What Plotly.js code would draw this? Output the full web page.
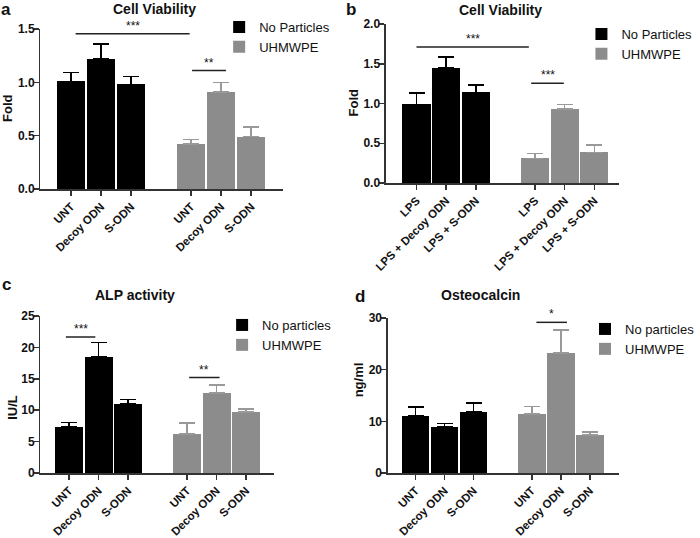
<!DOCTYPE html>
<html>
<head>
<meta charset="utf-8">
<script src="https://cdn.plot.ly/plotly-3.0.1.min.js"></script>
<style>
  body { margin: 0; background: #fff; }
  #fig { width: 700px; height: 538px; }
</style>
</head>
<body>
<div id="fig"></div>
<script>
// tick labels
var untLabels = ["UNT", "Decoy ODN", "S-ODN"];
var lpsLabels = ["LPS", "LPS + Decoy ODN", "LPS + S-ODN"];

// a. Cell Viability
var aNoPart = [1.01, 1.22, 0.98];
var aNoPartErr = [0.08, 0.14, 0.075];
var aUhmwpe = [0.42, 0.91, 0.49];
var aUhmwpeErr = [0.045, 0.09, 0.09];
var aSigFrom = [0.15, 4.03];
var aSigTo = [3.95, 5.16];
var aSigY = [1.456, 1.11];
var aSigText = ["***", "**"];

// b. Cell Viability (LPS)
var bNoPart = [0.99, 1.45, 1.14];
var bNoPartErr = [0.14, 0.135, 0.09];
var bUhmwpe = [0.31, 0.93, 0.385];
var bUhmwpeErr = [0.06, 0.06, 0.095];
var bSigFrom = [0, 3.87];
var bSigTo = [3.79, 4.97];
var bSigY = [1.71, 1.255];
var bSigText = ["***", "***"];

// c. ALP activity
var cNoPart = [7.4, 18.5, 11.0];
var cNoPartErr = [0.65, 2.3, 0.7];
var cUhmwpe = [6.25, 12.7, 9.75];
var cUhmwpeErr = [1.75, 1.3, 0.45];
var cSigFrom = [-0.11, 4.07];
var cSigTo = [0.89, 5.1];
var cSigY = [21.66, 15.2];
var cSigText = ["***", "**"];

// d. Osteocalcin
var dNoPart = [11.1, 8.9, 11.8];
var dNoPartErr = [1.7, 0.7, 1.75];
var dUhmwpe = [11.4, 23.2, 7.4];
var dUhmwpeErr = [1.45, 4.5, 0.5];
var dSigFrom = [4.16];
var dSigTo = [5.21];
var dSigY = [29.16];
var dSigText = ["*"];

var BLACK = "#000000";
var GRAY = "#8c8c8c";
var FONT = "Liberation Sans, Arial, sans-serif";

var data = [];
var annotations = [];

// bars + error bars for one panel
function addBars(ax, lg, blackY, blackErr, grayY, grayErr, name1) {
  var xa = ax == "" ? "x" : "x" + ax;
  var ya = ax == "" ? "y" : "y" + ax;
  data.push({
    type: "bar", x: blackY.map((v, i) => i), y: blackY, name: name1,
    xaxis: xa, yaxis: ya, legend: lg, width: 0.95,
    marker: { color: BLACK, line: { width: 0 } },
    error_y: { type: "data", array: blackErr, symmetric: false, arrayminus: blackErr.map(v => 0),
               color: BLACK, thickness: 1.5, width: 8 }
  });
  data.push({
    type: "bar", x: grayY.map((v, i) => i + 4), y: grayY, name: "UHMWPE",
    xaxis: xa, yaxis: ya, legend: lg, width: 0.95,
    marker: { color: GRAY, line: { width: 0 } },
    error_y: { type: "data", array: grayErr, symmetric: false, arrayminus: grayErr.map(v => 0),
               color: "#999999", thickness: 1.5, width: 8 }
  });
}

// significance lines and stars
function addSig(ax, from, to, ys, texts) {
  var xa = ax == "" ? "x" : "x" + ax;
  var ya = ax == "" ? "y" : "y" + ax;
  from.forEach(function(f, i) {
    data.push({
      type: "scatter", mode: "lines", x: [f, to[i]], y: [ys[i], ys[i]],
      xaxis: xa, yaxis: ya, showlegend: false, hoverinfo: "skip", cliponaxis: false,
      line: { color: "#222", width: 1.5 }
    });
    annotations.push({
      xref: xa, yref: ya, x: (f + to[i]) / 2, y: ys[i], text: texts[i],
      showarrow: false, xanchor: "center", yanchor: "bottom", yshift: -1,
      font: { family: FONT, size: 12, color: "#111" }
    });
  });
}

addBars("", "legend", aNoPart, aNoPartErr, aUhmwpe, aUhmwpeErr, "No Particles");
addBars("2", "legend2", bNoPart, bNoPartErr, bUhmwpe, bUhmwpeErr, "No Particles");
addBars("3", "legend3", cNoPart, cNoPartErr, cUhmwpe, cUhmwpeErr, "No particles");
addBars("4", "legend4", dNoPart, dNoPartErr, dUhmwpe, dUhmwpeErr, "No particles");

addSig("", aSigFrom, aSigTo, aSigY, aSigText);
addSig("2", bSigFrom, bSigTo, bSigY, bSigText);
addSig("3", cSigFrom, cSigTo, cSigY, cSigText);
addSig("4", dSigFrom, dSigTo, dSigY, dSigText);

// axis helpers
function xAxis(dom, rng, labels, anchor) {
  return {
    domain: dom, range: rng, anchor: anchor, showgrid: false, zeroline: false,
    showline: true, linecolor: "#333", linewidth: 1.5,
    ticks: "outside", ticklen: 5, tickwidth: 1.5, tickcolor: "#333",
    tickmode: "array", tickvals: [0, 1, 2, 4, 5, 6], ticktext: labels.concat(labels),
    tickangle: -45, tickfont: { family: FONT, size: 11.5, color: "#111", weight: "bold" },
    fixedrange: true
  };
}
function yAxis(dom, rng, dt, fmt, anchor) {
  return {
    domain: dom, range: rng, anchor: anchor, showgrid: false, zeroline: false,
    showline: true, linecolor: "#333", linewidth: 1.5,
    ticks: "outside", ticklen: 5, tickwidth: 1.5, tickcolor: "#333",
    dtick: dt, tick0: 0, tickformat: fmt, ticklabelstandoff: -3,
    tickfont: { family: FONT, size: 12, color: "#111", weight: "bold" },
    fixedrange: true
  };
}

// titles, letters, y titles
function label(x, y, text, size, bold, angle) {
  annotations.push({
    xref: "paper", yref: "paper", x: x / 700, y: 1 - y / 538, text: text,
    showarrow: false, xanchor: "center", yanchor: "middle", textangle: angle || 0,
    font: { family: FONT, size: size, color: "#111", weight: bold ? "bold" : "normal" }
  });
}
label(157, 9, "Cell Viability", 14, true);
label(507, 10, "Cell Viability", 14, true);
label(137, 295, "ALP activity", 14, true);
label(487, 295, "Osteocalcin", 14, true);
label(6, 10, "a", 17, true);
label(356, 10, "b", 17, true);
label(7, 284, "c", 17, true);
label(365, 297, "d", 17, true);
label(8, 108, "Fold", 13, true, -90);
label(358, 103, "Fold", 13, true, -90);
label(12, 407, "IU/L", 13, true, -90);
label(363, 380, "ng/ml", 13, true, -90);

function legendAt(x, y) {
  return {
    x: x / 700, y: 1 - y / 538, xanchor: "left", yanchor: "top",
    bgcolor: "rgba(0,0,0,0)", borderwidth: 0, tracegroupgap: 0,
    font: { family: FONT, size: 13, color: "#111" }
  };
}

var layout = {
  width: 700, height: 538,
  margin: { l: 0, r: 0, t: 0, b: 0 },
  paper_bgcolor: "#fff", plot_bgcolor: "#fff",
  barmode: "overlay", bargap: 0,
  showlegend: true,
  xaxis: xAxis([41 / 700, 287 / 700], [-1.02, 7.07], untLabels, "y"),
  yaxis: yAxis([(538 - 189) / 538, (538 - 29) / 538], [0, 1.5], 0.5, ".1f", "x"),
  xaxis2: xAxis([391 / 700, 627 / 700], [-1.03, 6.83], lpsLabels, "y2"),
  yaxis2: yAxis([(538 - 183) / 538, (538 - 24) / 538], [0, 2], 0.5, ".1f", "x2"),
  xaxis3: xAxis([41 / 700, 278 / 700], [-0.97, 6.96], untLabels, "y3"),
  yaxis3: yAxis([(538 - 473) / 538, (538 - 316) / 538], [0, 25], 5, "d", "x3"),
  xaxis4: xAxis([393 / 700, 627 / 700], [-0.95, 7.0], untLabels, "y4"),
  yaxis4: yAxis([(538 - 473) / 538, (538 - 318) / 538], [0, 30], 10, "d", "x4"),
  legend: legendAt(222, 12),
  legend2: legendAt(589, 19),
  legend3: legendAt(225, 310),
  legend4: legendAt(593, 314),
  annotations: annotations
};

Plotly.newPlot("fig", data, layout, { staticPlot: true });
</script>
</body>
</html>
